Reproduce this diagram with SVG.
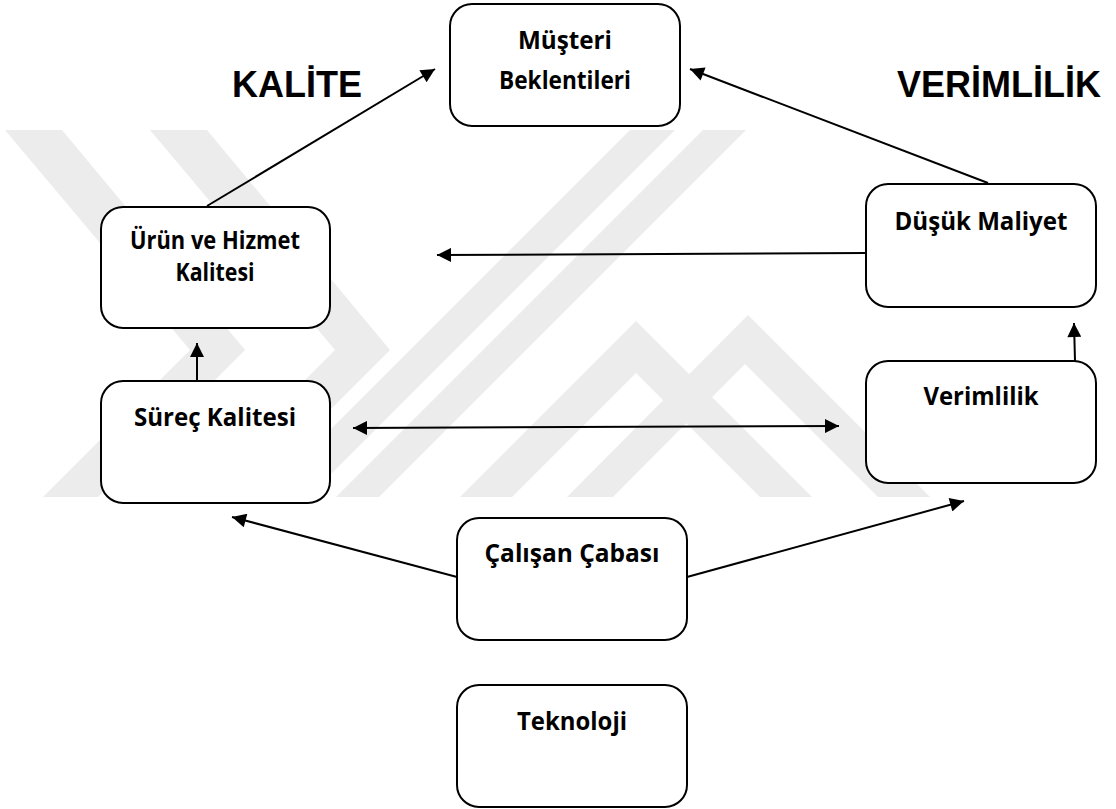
<svg xmlns="http://www.w3.org/2000/svg" width="1116" height="809" viewBox="0 0 1116 809">
  <defs>
    <marker id="arrow" viewBox="0 0 10 10" refX="10" refY="5" markerWidth="8" markerHeight="7" markerUnits="strokeWidth" orient="auto-start-reverse">
      <path d="M0,0 L10,5 L0,10 Z" fill="#000"/>
    </marker>
    <clipPath id="bandClip">
      <rect x="0" y="130" width="1116" height="367"/>
    </clipPath>
    <style>
      .box { fill: #fff; stroke: #000; stroke-width: 2; }
      .lbl { font-family: "Open Sans", "Noto Sans", sans-serif; font-weight: 700; font-size: 25px; fill: #000; text-anchor: middle; }
      .title { font-family: "Liberation Sans", Arial, sans-serif; font-weight: 700; font-size: 36px; fill: #000; }
      .edge { fill: none; stroke: #000; stroke-width: 2; }
      .end { marker-end: url(#arrow); }
      .both { marker-start: url(#arrow); marker-end: url(#arrow); }
      .band { fill: #ececec; }
    </style>
  </defs>
  <rect width="1116" height="809" fill="#fff"/>

  <!-- light grey striped emblem in the background -->
  <g id="emblem" clip-path="url(#bandClip)">
    <polygon class="band" points="5,130 62,130 245,350 98,497 43,497 190,350"/>
    <polygon class="band" points="150,130 207,130 390,350 243,497 188,497 335,350"/>
    <polygon class="band" points="630,130 675,130 308,497 263,497"/>
    <polygon class="band" points="703,130 746,130 379,497 336,497"/>
    <polygon class="band" points="636,321 812,497 760,497 636,373 512,497 460,497"/>
    <polygon class="band" points="748,315 930,497 878,497 745,364 613,497 567,497"/>
  </g>

  <!-- section headings -->
  <text class="title" x="232" y="97">KALİTE</text>
  <text class="title" x="897" y="97">VERİMLİLİK</text>

  <!-- connectors -->
  <g id="connectors">
    <line class="edge end" x1="207" y1="206" x2="435" y2="69"/>
    <line class="edge end" x1="988" y1="183" x2="690" y2="69"/>
    <line class="edge end" x1="866" y1="253" x2="437" y2="255"/>
    <line class="edge end" x1="197" y1="381" x2="197" y2="343"/>
    <line class="edge end" x1="1075" y1="361" x2="1074" y2="323"/>
    <line class="edge both" x1="353" y1="428" x2="839" y2="426"/>
    <line class="edge end" x1="457" y1="577" x2="232" y2="517"/>
    <line class="edge end" x1="687" y1="577" x2="964" y2="501"/>
  </g>

  <g id="musteri">
    <rect class="box" x="450" y="4" width="230" height="122" rx="22"/>
    <text class="lbl" x="565" y="49" textLength="94" lengthAdjust="spacingAndGlyphs">Müşteri</text>
    <text class="lbl" x="565" y="89" textLength="132" lengthAdjust="spacingAndGlyphs">Beklentileri</text>
  </g>

  <g id="urun">
    <rect class="box" x="101" y="207" width="229" height="121" rx="22"/>
    <text class="lbl" x="215" y="249" textLength="170" lengthAdjust="spacingAndGlyphs">Ürün ve Hizmet</text>
    <text class="lbl" x="215" y="281" textLength="79" lengthAdjust="spacingAndGlyphs">Kalitesi</text>
  </g>

  <g id="surec">
    <rect class="box" x="101" y="381" width="229" height="122" rx="22"/>
    <text class="lbl" x="215" y="426" textLength="162" lengthAdjust="spacingAndGlyphs">Süreç Kalitesi</text>
  </g>

  <g id="dusuk">
    <rect class="box" x="866" y="184" width="230" height="123" rx="22"/>
    <text class="lbl" x="981" y="230" textLength="173" lengthAdjust="spacingAndGlyphs">Düşük Maliyet</text>
  </g>

  <g id="verimlilik">
    <rect class="box" x="866" y="361" width="230" height="122" rx="22"/>
    <text class="lbl" x="981" y="405" textLength="115" lengthAdjust="spacingAndGlyphs">Verimlilik</text>
  </g>

  <g id="calisan">
    <rect class="box" x="457" y="518" width="230" height="122" rx="22"/>
    <text class="lbl" x="572" y="562" textLength="175" lengthAdjust="spacingAndGlyphs">Çalışan Çabası</text>
  </g>

  <g id="teknoloji">
    <rect class="box" x="457" y="685" width="230" height="122" rx="22"/>
    <text class="lbl" x="572" y="730" textLength="110" lengthAdjust="spacingAndGlyphs">Teknoloji</text>
  </g>
</svg>
